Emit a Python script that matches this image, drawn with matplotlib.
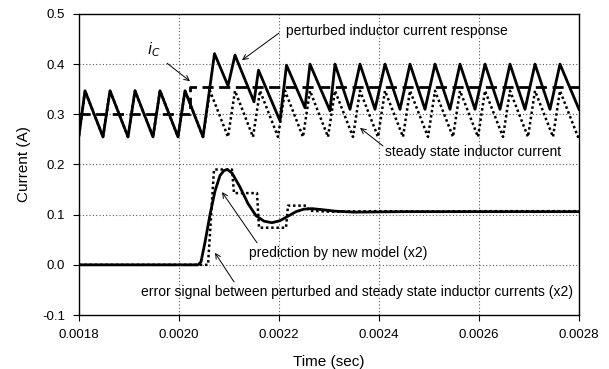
import matplotlib
matplotlib.use("Agg")
import matplotlib.pyplot as plt

plt.rcParams['font.family'] = ['Liberation Sans', 'DejaVu Sans']

# ---- data ----
# steady state inductor current (sawtooth vertices)
ss_t = [0.001800, 0.001812, 0.001848, 0.001862, 0.001898, 0.001912, 0.001948, 0.001962,
        0.001998, 0.002012, 0.002048, 0.002062, 0.002098, 0.002112, 0.002148, 0.002162,
        0.002198, 0.002212, 0.002248, 0.002262, 0.002298, 0.002312, 0.002348, 0.002362,
        0.002398, 0.002412, 0.002448, 0.002462, 0.002498, 0.002512, 0.002548, 0.002562,
        0.002598, 0.002612, 0.002648, 0.002662, 0.002698, 0.002712, 0.002748, 0.002762,
        0.002798, 0.002800]
ss_i = [0.258, 0.347, 0.255, 0.347, 0.255, 0.347, 0.255, 0.347,
        0.255, 0.347, 0.255, 0.347, 0.255, 0.347, 0.255, 0.347,
        0.255, 0.347, 0.255, 0.347, 0.255, 0.347, 0.255, 0.347,
        0.255, 0.347, 0.255, 0.347, 0.255, 0.347, 0.255, 0.347,
        0.255, 0.347, 0.255, 0.347, 0.255, 0.347, 0.255, 0.347,
        0.255, 0.258]

# perturbed inductor current response
pt_t = [0.001800, 0.001812, 0.001848, 0.001862, 0.001898, 0.001912, 0.001948, 0.001962,
        0.001998, 0.002012, 0.002048, 0.002071, 0.002098, 0.002112, 0.002150, 0.002159,
        0.002202, 0.002215, 0.002252, 0.002262, 0.002302, 0.002312, 0.002342, 0.002362,
        0.002392, 0.002412, 0.002442, 0.002462, 0.002492, 0.002512, 0.002542, 0.002562,
        0.002592, 0.002612, 0.002642, 0.002662, 0.002692, 0.002712, 0.002742, 0.002762,
        0.002800]
pt_i = [0.258, 0.347, 0.255, 0.347, 0.255, 0.347, 0.255, 0.347,
        0.255, 0.347, 0.255, 0.421, 0.357, 0.418, 0.325, 0.388,
        0.287, 0.398, 0.313, 0.400, 0.307, 0.400, 0.310, 0.400,
        0.310, 0.400, 0.310, 0.400, 0.310, 0.400, 0.310, 0.400,
        0.310, 0.400, 0.310, 0.400, 0.310, 0.400, 0.310, 0.400,
        0.310]

# control current i_c (step)
ic_t = [0.001800, 0.002022, 0.002022, 0.002800]
ic_i = [0.300, 0.300, 0.355, 0.355]

# error signal (x2)
err_t = [0.001800, 0.002058, 0.002070, 0.002106, 0.002110, 0.002156, 0.002160,
         0.002214, 0.002218, 0.002255, 0.002260, 0.002300, 0.002400, 0.002500,
         0.002600, 0.002700, 0.002800]
err_v = [0.000, 0.000, 0.190, 0.190, 0.143, 0.143, 0.074,
         0.074, 0.118, 0.118, 0.108, 0.106, 0.107, 0.106,
         0.107, 0.107, 0.107]

# prediction by new model (x2)
pred_t = [0.001800, 0.002038, 0.002044, 0.002052, 0.002062, 0.002072, 0.002082,
          0.002090, 0.002097, 0.002106, 0.002122, 0.002138, 0.002154, 0.002170,
          0.002186, 0.002202, 0.002218, 0.002234, 0.002250, 0.002266, 0.002286,
          0.002312, 0.002350, 0.002450, 0.002600, 0.002800]
pred_v = [0.000, 0.000, 0.006, 0.045, 0.100, 0.147, 0.178,
          0.188, 0.190, 0.183, 0.155, 0.122, 0.098, 0.087,
          0.084, 0.088, 0.097, 0.106, 0.111, 0.112, 0.110,
          0.107, 0.105, 0.106, 0.106, 0.106]

xticks = [0.0018, 0.0020, 0.0022, 0.0024, 0.0026, 0.0028]
yticks = [-0.1, 0.0, 0.1, 0.2, 0.3, 0.4, 0.5]

# ---- figure ----
fig = plt.figure(figsize=(6.09, 3.69), dpi=100)
ax = fig.add_axes([79/609, 54/369, 500/609, 301/369])

ax.set_xlim(0.0018, 0.0028)
ax.set_ylim(-0.1, 0.5)
ax.set_xticks(xticks)
ax.set_yticks(yticks)
ax.set_xticklabels([f"{v:.4f}" for v in xticks], fontsize=9.5)
ax.set_yticklabels([f"{v:.1f}" for v in yticks], fontsize=9.5)
ax.tick_params(direction='out', length=4, width=0.8, colors='black', pad=6)

for v in xticks[1:-1]:
    ax.axvline(v, color='0.35', linestyle=(0, (1, 2)), lw=0.8, zorder=0)
for v in yticks[1:-1]:
    ax.axhline(v, color='0.35', linestyle=(0, (1, 2)), lw=0.8, zorder=0)

for s in ax.spines.values():
    s.set_linewidth(1.0)
    s.set_color('black')

ax.plot(ss_t, ss_i, color='black', lw=1.8, linestyle=(0, (1, 1.1)), zorder=2)
ax.plot(err_t, err_v, color='black', lw=1.8, linestyle=(0, (1, 1.1)), zorder=2)
ax.plot(ic_t, ic_i, color='black', lw=2.0, linestyle=(0, (4, 2)), zorder=3)
ax.plot(pt_t, pt_i, color='black', lw=2.0, zorder=4)
ax.plot(pred_t, pred_v, color='black', lw=2.0, zorder=4)

ax.set_xlabel("Time (sec)", fontsize=11, labelpad=10)
ax.set_ylabel("Current (A)", fontsize=11, labelpad=8)

ap = dict(arrowstyle='->', lw=0.7, color='black', shrinkA=0, shrinkB=0,
          mutation_scale=9)
fs = 10
ax.text(0.002214, 0.466, "perturbed inductor current response", fontsize=fs,
        va='center', ha='left')
ax.annotate("", xy=(0.002126, 0.408), xytext=(0.002200, 0.462), arrowprops=ap)
ax.text(0.001950, 0.428, "$i_C$", fontsize=11, ha='center', va='center')
ax.annotate("", xy=(0.002022, 0.366), xytext=(0.001976, 0.402), arrowprops=ap)
ax.text(0.002412, 0.225, "steady state inductor current", fontsize=fs,
        ha='left', va='center')
ax.annotate("", xy=(0.002362, 0.273), xytext=(0.002408, 0.237), arrowprops=ap)
ax.text(0.002140, 0.024, "prediction by new model (x2)", fontsize=fs,
        ha='left', va='center')
ax.annotate("", xy=(0.002086, 0.145), xytext=(0.002156, 0.044), arrowprops=ap)
ax.text(0.001924, -0.054,
        "error signal between perturbed and steady state inductor currents (x2)",
        fontsize=fs, ha='left', va='center')
ax.annotate("", xy=(0.002072, 0.024), xytext=(0.002110, -0.034), arrowprops=ap)

fig.savefig("out.png", dpi=100)
